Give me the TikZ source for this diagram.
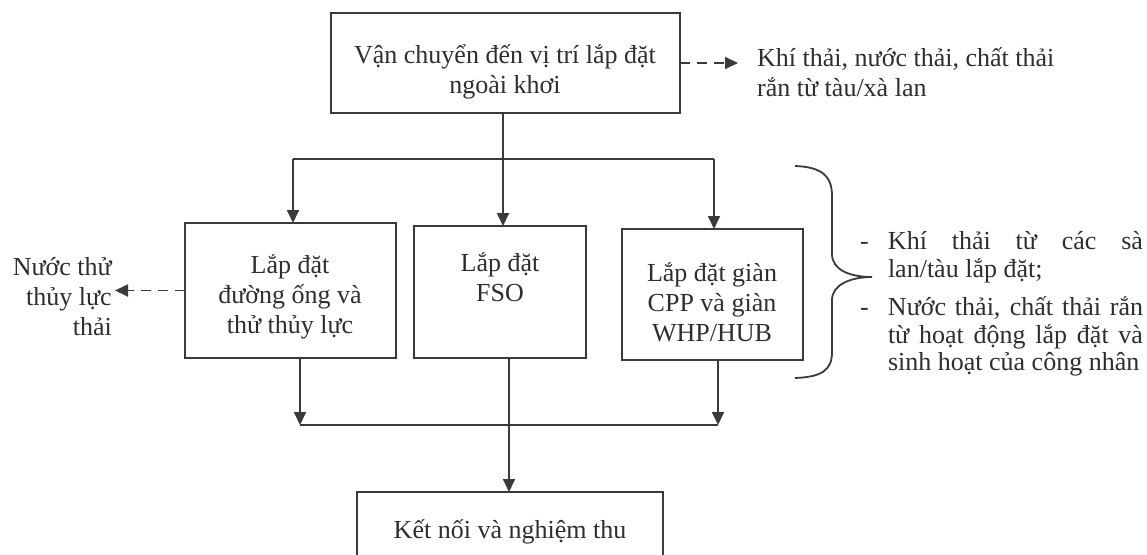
\documentclass[tikz,border=0pt]{standalone}
\usepackage{fontspec}
\setmainfont{Liberation Serif}
\usetikzlibrary{arrows.meta}
\definecolor{ink}{HTML}{3A3A3A}
\definecolor{txtc}{HTML}{2E2E2E}
\tikzset{
  box/.style={draw=ink, line width=1.8pt, inner sep=0pt, outer sep=0pt},
  txt/.style={text=txtc, align=center, inner sep=0pt, font=\fontsize{26}{30}\selectfont},
  arr/.style={draw=ink, line width=1.8pt, -{Triangle[length=13pt,width=12pt]}},
  dasharr/.style={draw=ink, line width=1.8pt, dash pattern=on 10pt off 7pt, -{Triangle[length=13pt,width=12pt]}},
  conn/.style={draw=ink, line width=1.8pt},
}
\begin{document}
\begin{tikzpicture}[x=1pt,y=-1pt]
\useasboundingbox (0,0) rectangle (1147,554);
\clip (0,0) rectangle (1147,554);
% boxes
\node[box, minimum width=349pt, minimum height=100pt] (top) at (505.5,63) {};
\node[box, minimum width=211pt, minimum height=135pt] (left) at (290.5,290.5) {};
\node[box, minimum width=172pt, minimum height=132pt] (mid) at (500,292) {};
\node[box, minimum width=181pt, minimum height=131pt] (right) at (712.5,294.5) {};
\node[box, minimum width=306pt, minimum height=90pt] (bot) at (510,537) {};
% texts
\node[txt] (toptxt) at (505,72) {Vận chuyển đến vị trí lắp đặt\\ngoài khơi};
\node[txt] (lefttxt) at (290,297) {Lắp đặt\\đường ống và\\thử thủy lực};
\node[txt] (midtxt) at (500,277) {Lắp đặt\\FSO};
\node[txt] (righttxt) at (712,302) {Lắp đặt giàn\\CPP và giàn\\WHP/HUB};
\node[txt] (bottxt) at (510,532) {Kết nối và nghiệm thu};
\node[txt, align=left, anchor=west] (note1) at (757,72) {Khí thải, nước thải, chất thải\\rắn từ tàu/xà lan};
\node[txt, align=right, anchor=east] (note2) at (112,297) {Nước thử\\thủy lực\\thải};
\node[txt, align=justify, text width=283pt, font=\fontsize{26}{27.5}\selectfont] (note3) at (1001.5,304)
 {\hangindent=28pt\hangafter=1\makebox[28pt][l]{-}Khí thải từ các sà\linebreak lan/tàu lắp đặt;\par\vspace{11pt}
  \hangindent=28pt\hangafter=1\makebox[28pt][l]{-}Nước thải, chất thải rắn\linebreak từ hoạt động lắp đặt và\linebreak sinh hoạt của công nhân\par};
% brace
\draw[conn] (795,166) .. controls (822,167) and (832,176) .. (832,196) -- (832,254)
  .. controls (832,270) and (850,277) .. (872,277)
  .. controls (850,277) and (832,285) .. (832,300) -- (832,352)
  .. controls (832,370) and (822,377) .. (795,378);
% junctions
\coordinate (j1) at (503,159);
\coordinate (jl) at (293,159);
\coordinate (jr) at (714,159);
\coordinate (bl) at (300,425);
\coordinate (br) at (718,425);
\coordinate (bm) at (509,425);
% connectors
\draw[conn] (top.south -| j1) -- (j1);
\draw[conn] (jl) -- (jr);
\draw[arr] (jl) -- (jl |- left.north);
\draw[arr] (j1) -- (j1 |- mid.north);
\draw[arr] (jr) -- (jr |- right.north);
\draw[arr] (bl |- left.south) -- (bl);
\draw[arr] (br |- right.south) -- (br);
\draw[conn] (bl) -- (br);
\draw[arr] (bm |- mid.south) -- (bm |- bot.north);
\draw[dasharr, shorten >=19pt] (top.east) -- (top.east -| note1.west);
\draw[dasharr, shorten >=3pt] (left.west) -- (left.west -| note2.east);
\end{tikzpicture}
\end{document}
